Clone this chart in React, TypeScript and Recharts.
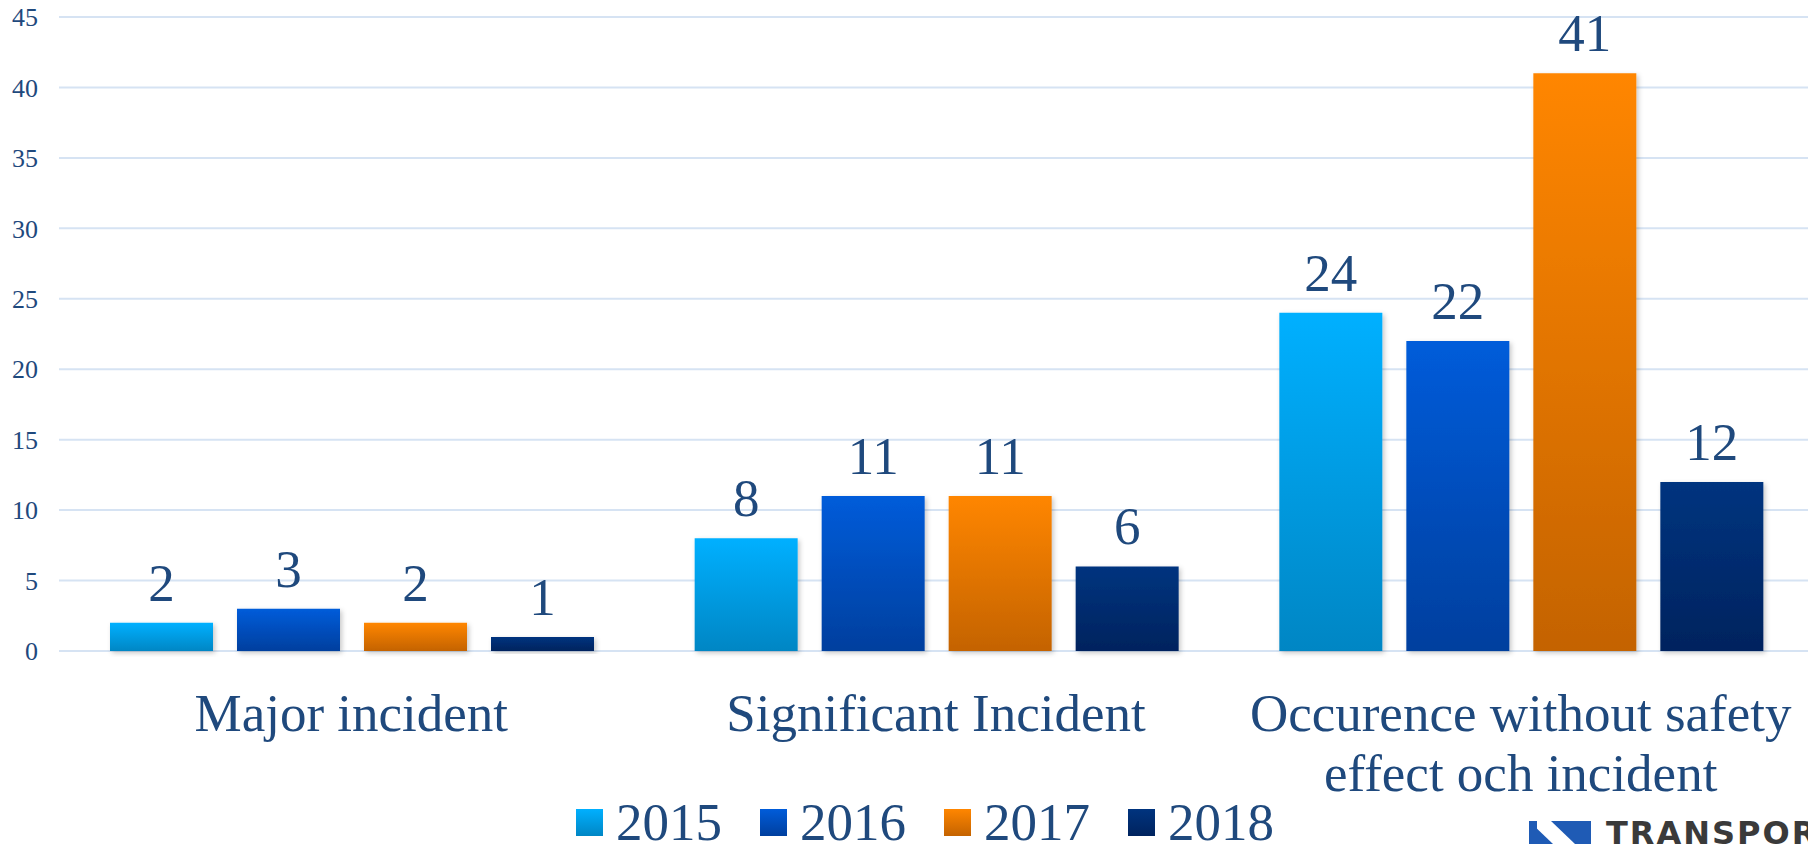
import React from "react";
import { BarChart, Bar, XAxis, YAxis, CartesianGrid, Legend, LabelList } from "recharts";

const categories = ["Major incident", "Significant Incident", "Occurence without safety effect och incident"];
const years = ["2015", "2016", "2017", "2018"];
const values2015 = [2, 8, 24];
const values2016 = [3, 11, 22];
const values2017 = [2, 11, 41];
const values2018 = [1, 6, 12];
const yTicks = [0, 5, 10, 15, 20, 25, 30, 35, 40, 45];

const gradients: Record<string, [string, string]> = {
  "2015": ["#00B0FF", "#0086C4"],
  "2016": ["#005CDA", "#003F9E"],
  "2017": ["#FF8600", "#C46300"],
  "2018": ["#00347F", "#00235E"],
};

const TEXT_COLOR = "#1F497D";
const SERIF = "'Liberation Serif', 'Times New Roman', serif";

const data = categories.map((name, i) => ({
  name,
  y2015: values2015[i],
  y2016: values2016[i],
  y2017: values2017[i],
  y2018: values2018[i],
}));

// simple word wrap by character count
function wrapWords(label: string, maxChars: number) {
  const lines: string[] = [];
  let cur = "";
  label.split(" ").forEach((w) => {
    const next = cur ? cur + " " + w : w;
    if (next.length > maxChars && cur) {
      lines.push(cur);
      cur = w;
    } else {
      cur = next;
    }
  });
  if (cur) lines.push(cur);
  return lines;
}

const CategoryTick = (props: any) => {
  const { x, y, payload } = props;
  const lines = wrapWords(payload.value, 25);
  return (
    <text x={x} y={y + 80} textAnchor="middle" fill={TEXT_COLOR} fontSize={53} fontFamily={SERIF}>
      {lines.map((line, i) => (
        <tspan key={i} x={x} dy={i === 0 ? 0 : 60}>
          {line}
        </tspan>
      ))}
    </text>
  );
};

const renderLegend = () => (
  <div style={{ display: "flex", justifyContent: "center", alignItems: "center", height: 44 }}>
    {years.map((yr, i) => (
      <div key={yr} style={{ display: "flex", alignItems: "center", marginLeft: i === 0 ? 0 : 38 }}>
        <div
          style={{
            width: 27,
            height: 27,
            marginRight: 13,
            background: `linear-gradient(${gradients[yr][0]}, ${gradients[yr][1]})`,
          }}
        />
        <span style={{ fontFamily: SERIF, fontSize: 53, lineHeight: "44px", color: TEXT_COLOR }}>{yr}</span>
      </div>
    ))}
  </div>
);

export default function App() {
  return (
    <div style={{ position: "absolute", left: 0, top: 0, width: 1808, height: 844, overflow: "hidden", background: "#fff" }}>
      <BarChart
        width={1850}
        height={844}
        data={data}
        margin={{ top: 17, right: 37, bottom: 0, left: 0 }}
        barCategoryGap={51}
        barGap={24}
      >
        <defs>
          {years.map((yr) => (
            <linearGradient key={yr} id={`grad${yr}`} x1="0" y1="0" x2="0" y2="1">
              <stop offset="0%" stopColor={gradients[yr][0]} />
              <stop offset="100%" stopColor={gradients[yr][1]} />
            </linearGradient>
          ))}
          <filter id="barShadow" x="-10%" y="-10%" width="130%" height="130%">
            <feDropShadow dx="2" dy="2" stdDeviation="2.5" floodColor="#000" floodOpacity="0.22" />
          </filter>
        </defs>
        <CartesianGrid vertical={false} stroke="#D6E3F3" strokeWidth={2} />
        <XAxis
          dataKey="name"
          axisLine={false}
          tickLine={false}
          tickSize={0}
          tickMargin={0}
          height={149}
          interval={0}
          tick={<CategoryTick />}
        />
        <YAxis
          domain={[0, 45]}
          ticks={yTicks}
          width={59}
          axisLine={false}
          tickLine={false}
          tickSize={0}
          tickMargin={21}
          tick={{ fill: TEXT_COLOR, fontSize: 26, fontFamily: SERIF }}
        />
        <Legend verticalAlign="bottom" content={renderLegend} wrapperStyle={{ left: 0, width: 1850 }} />
        {years.map((yr) => (
          <Bar
            key={yr}
            dataKey={`y${yr}`}
            name={yr}
            fill={`url(#grad${yr})`}
            isAnimationActive={false}
            style={{ filter: "url(#barShadow)" }}
          >
            <LabelList
              dataKey={`y${yr}`}
              position="top"
              offset={22}
              fill={TEXT_COLOR}
              fontSize={53}
              fontFamily={SERIF}
            />
          </Bar>
        ))}
      </BarChart>
      <svg style={{ position: "absolute", left: 1529, top: 821 }} width={62} height={23}>
        <rect x={0} y={0} width={62} height={23} fill="#1F5BB5" />
        <polygon points="0,0 22,0 46,23 24,23" fill="#FFFFFF" />
        <polygon points="0,0 8,0 8,23 0,23" fill="#1F5BB5" />
      </svg>
      <div
        style={{
          position: "absolute",
          left: 1606,
          top: 815,
          fontFamily: "'DejaVu Sans', sans-serif",
          fontWeight: 700,
          fontSize: 32,
          letterSpacing: 2,
          color: "#3A3A3A",
          lineHeight: "36px",
          whiteSpace: "nowrap",
        }}
      >
        TRANSPORTSTYRELSEN
      </div>
    </div>
  );
}
